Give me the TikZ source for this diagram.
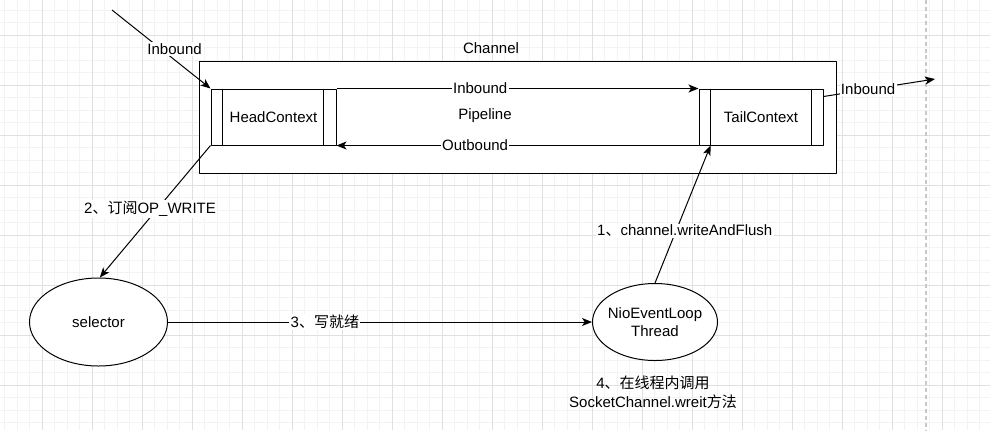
\documentclass[tikz,border=0pt]{standalone}
\usepackage{fontspec}
\setmainfont{Liberation Sans}
\newfontfamily\cjk{Noto Sans CJK SC}
\usetikzlibrary{arrows.meta,shapes.geometric}
\definecolor{gridmajor}{HTML}{E0E0E0}
\definecolor{gridminor}{HTML}{F3F3F3}
\definecolor{pagedash}{HTML}{C8C8C8}
\tikzset{
  ctxbox/.style={draw, fill=white, minimum height=42pt, inner sep=0pt},
  loopell/.style={draw, fill=white, ellipse, inner sep=0pt},
  flow/.style={-{Stealth[length=7.5pt,width=6pt,inset=2pt]}},
  lbl/.style={fill=white, inner sep=1pt},
}
\begin{document}
\begin{tikzpicture}[x=0.75pt, y=-0.75pt, font=\fontsize{11.25}{13.5}\selectfont, line join=round, line width=0.75pt]
\useasboundingbox (0,0) rectangle (990,430);
\fill[white] (0,0) rectangle (990,430);
% grid
\foreach \i in {0,...,79} \draw[gridminor, line width=0.6pt] ({4.8+12.5*\i},0) -- ++(0,430);
\foreach \i in {0,...,34} \draw[gridminor, line width=0.6pt] (0,{10.3+12.5*\i}) -- ++(990,0);
\foreach \i in {0,...,18} \draw[gridmajor, line width=0.75pt] ({42.3+50*\i},0) -- ++(0,430);
\foreach \i in {0,...,7} \draw[gridmajor, line width=0.75pt] (0,{35.3+50*\i}) -- ++(990,0);
\draw[pagedash, line width=1pt, dash pattern=on 3pt off 2.2pt] (926,0) -- (926,430);

% channel and pipeline
\node[draw, fill=white, minimum width=477.75pt, minimum height=84pt, inner sep=0pt] (channel) at (517.5,117) {};
\node (chanlbl) at (491,48) {Channel};
\node (pipelbl) at (485,116) {Pipeline};
\node[ctxbox, minimum width=93.75pt] (head) at (273.5,117) {HeadContext};
\draw ([xshift=9pt]head.north west) -- ([xshift=9pt]head.south west);
\draw ([xshift=-9.75pt]head.north east) -- ([xshift=-9.75pt]head.south east);
\node[ctxbox, minimum width=93pt] (tail) at (761,117) {TailContext};
\draw ([xshift=9pt]tail.north west) -- ([xshift=9pt]tail.south west);
\draw ([xshift=-9pt]tail.north east) -- ([xshift=-9pt]tail.south east);

% loops
\node[loopell, minimum width=103.5pt, minimum height=66pt] (selector) at (98.5,322) {selector};
\node[loopell, minimum width=93.75pt, minimum height=57.75pt, label={[align=center]center:NioEventLoop\\Thread}] (nio) at (655,322) {};
\node[align=center, font=\fontsize{11.25}{14.25}\selectfont] (note) at (653,392.5) {4{\cjk 、在线程内调用}\\SocketChannel.wreit{\cjk 方法}};

% connectors
\coordinate (inA) at (112,10);
\coordinate (outB) at (935,79);
\draw[flow] (inA) -- (head.north west) node[lbl, pos=0.5, xshift=10pt] {Inbound};
\draw[flow] ([yshift=-6pt]tail.north east) -- (outB) node[lbl, pos=0.4] {Inbound};
\draw[flow] (head.north east) -- (tail.north west) node[lbl, pos=0.397] {Inbound};
\draw[flow] (tail.south west) -- (head.south east) node[lbl, pos=0.617] {Outbound};
\draw[flow] (head.south west) -- ([xshift=1pt]selector.north) node[lbl, pos=0.48, xshift=-5.5pt] {2{\cjk 、订阅}OP\_WRITE};
\draw[flow] (selector.east) -- (nio.west) node[lbl, pos=0.37] {3{\cjk 、写就绪}};
\draw[flow] (nio.north) -- ([xshift=9pt]tail.south west) node[lbl, pos=0.38, xshift=6.5pt] {1{\cjk 、}channel.writeAndFlush};
\end{tikzpicture}
\end{document}
